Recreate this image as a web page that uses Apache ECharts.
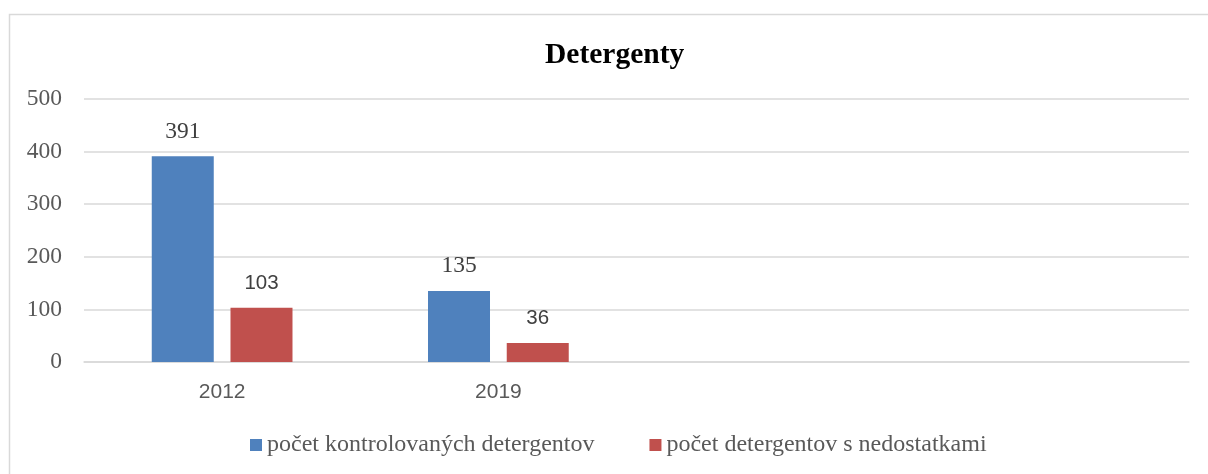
<!DOCTYPE html>
<html>
<head>
<meta charset="utf-8">
<script src="https://cdn.jsdelivr.net/npm/echarts@6/dist/echarts.min.js"></script>
<style>html,body{margin:0;padding:0;background:#fff}#c{width:1208px;height:474px}</style>
</head>
<body>
<div id="c"></div>
<script>
const categories = ['2012', '2019', '', ''];
const seriesNames = ['počet kontrolovaných detergentov', 'počet detergentov s nedostatkami'];
const controlled = [391, 135, null, null];
const deficient = [103, 36, null, null];
const yTicks = { min: 0, max: 500, interval: 100 };

const serif = 'Liberation Serif';
const sans = 'Liberation Sans';
const chart = echarts.init(document.getElementById('c'), null, { renderer: 'canvas' });
chart.setOption({
  animation: false,
  backgroundColor: '#fff',
  title: {
    text: 'Detergenty', left: 540, top: 35,
    textStyle: { fontFamily: serif, fontWeight: 'bold', fontSize: 29.5, color: '#000' }
  },
  graphic: [{
    type: 'rect', left: 7, top: 12, silent: true,
    shape: { width: 1230, height: 480 },
    style: { fill: 'none', stroke: '#d9d9d9', lineWidth: 1.5 }
  }],
  legend: {
    left: 245, top: 428, itemWidth: 12, itemHeight: 12, itemGap: 55,
    icon: 'rect',
    textStyle: { fontFamily: serif, fontSize: 24, color: '#595959' },
    data: seriesNames
  },
  grid: { left: 84, right: 19, top: 99, bottom: 112, containLabel: false },
  xAxis: {
    type: 'category', data: categories,
    axisLine: { lineStyle: { color: '#d9d9d9', width: 1.5 } },
    axisTick: { show: false },
    axisLabel: { fontFamily: sans, fontSize: 21, color: '#595959', margin: 20 }
  },
  yAxis: {
    type: 'value', min: yTicks.min, max: yTicks.max, interval: yTicks.interval,
    axisLine: { show: false }, axisTick: { show: false },
    splitLine: { lineStyle: { color: '#d9d9d9', width: 1.5 } },
    axisLabel: { fontFamily: serif, fontSize: 23.5, color: '#595959', margin: 22 }
  },
  series: [
    {
      name: seriesNames[0], type: 'bar', data: controlled, barWidth: 62, barGap: '27%',
      itemStyle: { color: '#4f81bd' },
      label: { show: true, position: 'top', distance: 13, fontFamily: serif, fontSize: 23.5, color: '#404040' }
    },
    {
      name: seriesNames[1], type: 'bar', data: deficient, barWidth: 62,
      itemStyle: { color: '#c0504d' },
      label: { show: true, position: 'top', distance: 14, fontFamily: sans, fontSize: 20.5, color: '#404040' }
    }
  ]
});
</script>
</body>
</html>
